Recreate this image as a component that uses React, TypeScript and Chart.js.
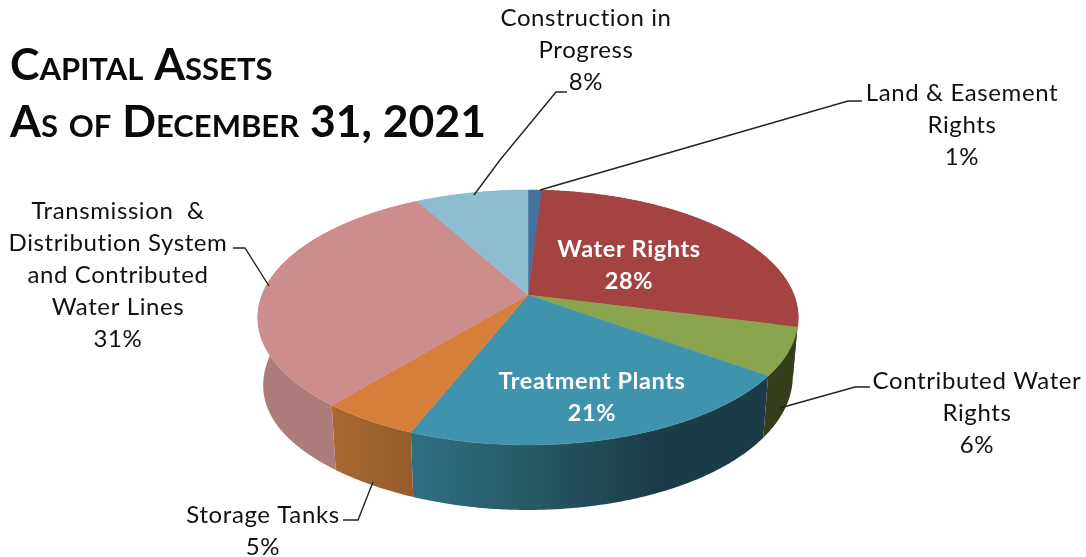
import React, { useEffect, useRef } from "react";
import { Chart, registerables } from "chart.js";

Chart.register(...registerables);

const categories = [
  "Land & Easement Rights",
  "Water Rights",
  "Contributed Water Rights",
  "Treatment Plants",
  "Storage Tanks",
  "Transmission & Distribution System and Contributed Water Lines",
  "Construction in Progress",
];
const shares = [1, 28, 6, 21, 5, 31, 8];
const topColors = ["#44719f", "#a54343", "#89a54e", "#3f93ad", "#d57f3a", "#cc8d8c", "#8fbdd0"];
const sideStops: [number, string][][] = [
  [[0, "#2f4d70"], [1, "#2f4d70"]],
  [[0, "#6f2c2c"], [1, "#6f2c2c"]],
  [[0, "#353e1b"], [1, "#353e1b"]],
  [[0, "#2f7084"], [0.35, "#265764"], [0.7, "#1b3b47"], [1, "#1b3b47"]],
  [[0, "#aa6831"], [1, "#955d2a"]],
  [[0, "#ad7b7a"], [0.7, "#ad7b7a"], [1, "#b68180"]],
  [[0, "#6d95a5"], [1, "#6d95a5"]],
];

const titleLines = ["Capital Assets", "As of December 31, 2021"];

type Note = { lines: string[]; x: number; y: number; color: string; weight: string };
const notes: Note[] = [
  { lines: ["Construction in", "Progress", "8%"], x: 586, y: 18, color: "#111", weight: "400" },
  { lines: ["Land & Easement", "Rights", "1%"], x: 962, y: 93, color: "#111", weight: "400" },
  {
    lines: ["Transmission  &", "Distribution System", "and Contributed", "Water Lines", "31%"],
    x: 118,
    y: 211,
    color: "#111",
    weight: "400",
  },
  { lines: ["Storage Tanks", "5%"], x: 263, y: 515, color: "#111", weight: "400" },
  { lines: ["Contributed Water", "Rights", "6%"], x: 977, y: 381, color: "#111", weight: "400" },
  { lines: ["Water Rights", "28%"], x: 629, y: 249, color: "#fff", weight: "700" },
  { lines: ["Treatment Plants", "21%"], x: 592, y: 381, color: "#fff", weight: "700" },
];

const leaders: [number, number][][] = [
  [[474, 195], [500, 160], [556, 92], [567, 92]],
  [[540, 190], [848, 101], [862, 101]],
  [[233, 248], [245, 248], [269, 286]],
  [[343, 520], [358, 520], [373, 482]],
  [[780, 408], [855, 387], [870, 387]],
];

// Tilted-disc camera: apex position, radii and perspective strength.
const APEX_X = 528;
const APEX_Y = 295;
const RADIUS_X = 266;
const RADIUS_Y = 123.5;
const PERSPECTIVE = -0.1765;

const rimPoint = (angle: number): [number, number] => {
  const u = Math.cos(angle);
  const v = Math.sin(angle);
  const w = 1 + PERSPECTIVE * v;
  return [APEX_X + (RADIUS_X * u) / w, APEX_Y + (RADIUS_Y * v) / w];
};

// The wall is a little taller on the near-left side of the disc.
const floorPoint = (angle: number): [number, number] => {
  const [x, y] = rimPoint(angle);
  const c = Math.cos(angle);
  const drop = 57 + 8 * Math.sin(angle) + (c < 0 ? 10 * c ** 4 : 0);
  return [APEX_X + (x - APEX_X) * 0.98, y + drop];
};

const sampleArc = (a: number, b: number) => {
  const steps = Math.max(2, Math.ceil((b - a) / 0.01));
  const out: number[] = [];
  for (let i = 0; i <= steps; i++) out.push(a + ((b - a) * i) / steps);
  return out;
};

const tiltedPie = {
  id: "tiltedPie",
  beforeDatasetDraw(chart: any) {
    const ctx: CanvasRenderingContext2D = chart.ctx;
    const arcs = chart.getDatasetMeta(0).data;
    ctx.save();
    arcs.forEach((arc: any, i: number) => {
      const angles = sampleArc(arc.startAngle, arc.endAngle);
      const rim = angles.map(rimPoint);
      const floor = angles.map(floorPoint);
      const xs = rim.map((p) => p[0]).concat(floor.map((p) => p[0]));
      const grad = ctx.createLinearGradient(Math.min(...xs), 0, Math.max(...xs), 0);
      sideStops[i].forEach(([o, c]) => grad.addColorStop(o, c));
      ctx.beginPath();
      rim.forEach(([x, y], k) => (k ? ctx.lineTo(x, y) : ctx.moveTo(x, y)));
      floor.reverse().forEach(([x, y]) => ctx.lineTo(x, y));
      ctx.closePath();
      ctx.fillStyle = grad;
      ctx.fill();
    });
    arcs.forEach((arc: any) => {
      const angles = sampleArc(arc.startAngle, arc.endAngle);
      ctx.beginPath();
      ctx.moveTo(APEX_X, APEX_Y);
      angles.map(rimPoint).forEach(([x, y]) => ctx.lineTo(x, y));
      ctx.closePath();
      ctx.fillStyle = arc.options.backgroundColor;
      ctx.strokeStyle = arc.options.backgroundColor;
      ctx.lineWidth = 0.5;
      ctx.fill();
      ctx.stroke();
    });
    ctx.restore();
    return false;
  },
  afterDraw(chart: any) {
    const ctx: CanvasRenderingContext2D = chart.ctx;
    ctx.save();

    // Leader lines from the outer labels to their slices.
    ctx.strokeStyle = "#222";
    ctx.lineWidth = 1.4;
    leaders.forEach((path) => {
      ctx.beginPath();
      path.forEach(([x, y], k) => (k ? ctx.lineTo(x, y) : ctx.moveTo(x, y)));
      ctx.stroke();
    });

    ctx.textAlign = "center";
    ctx.textBaseline = "middle";
    (ctx as any).letterSpacing = "0.6px";
    notes.forEach((n) => {
      ctx.font = `${n.weight} 24px Lato`;
      if (n.color === "#fff") ctx.font = `${n.weight} 23.5px Lato`;
      ctx.fillStyle = n.color;
      n.lines.forEach((line, k) => ctx.fillText(line, n.x, n.y + k * 32));
    });

    // Two-line small-caps heading.
    ctx.textAlign = "left";
    ctx.textBaseline = "alphabetic";
    (ctx as any).letterSpacing = "0px";
    ctx.font = "small-caps 700 44.5px Lato";
    ctx.fillStyle = "#0a0a0a";
    titleLines.forEach((line, k) => ctx.fillText(line, 10, 80 + k * 57));
    ctx.restore();
  },
};

export default function App() {
  const ref = useRef<HTMLCanvasElement>(null);
  useEffect(() => {
    document.body.style.margin = "0";
    const chart = new Chart(ref.current!, {
      type: "pie",
      data: {
        labels: categories,
        datasets: [{ data: shares, backgroundColor: topColors, borderWidth: 0 }],
      },
      options: {
        animation: false,
        responsive: false,
        rotation: 0,
        plugins: { legend: { display: false }, tooltip: { enabled: false } },
      },
      plugins: [tiltedPie],
    });
    return () => chart.destroy();
  }, []);
  return <canvas ref={ref} width={1086} height={557} style={{ display: "block" }} />;
}
